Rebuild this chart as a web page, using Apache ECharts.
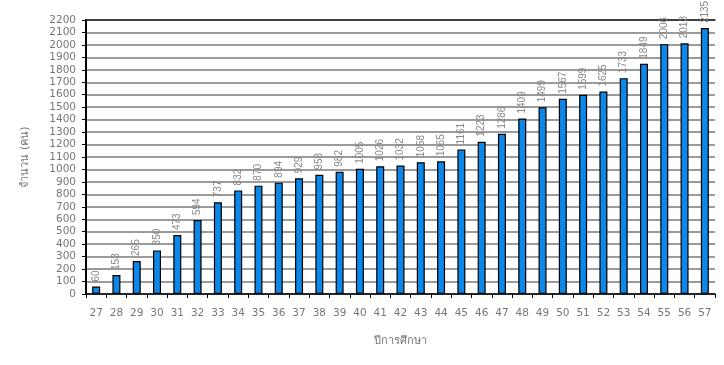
<!DOCTYPE html>
<html><head><meta charset="utf-8">
<script src="https://cdn.jsdelivr.net/npm/echarts@6/dist/echarts.min.js"></script>
<style>html,body{margin:0;padding:0;background:#fff}#c{width:724px;height:365px}</style>
</head><body><div id="c"></div>
<script>
const categories = ['27','28','29','30','31','32','33','34','35','36','37','38','39','40','41','42','43','44','45','46','47','48','49','50','51','52','53','54','55','56','57'];
const values = [60,153,265,350,473,594,737,832,870,894,929,958,982,1005,1026,1032,1058,1065,1161,1223,1286,1409,1499,1567,1599,1625,1733,1849,2006,2013,2135];
const xTitle = 'ปีการศึกษา';
const yTitle = 'จำนวน (คน)';

const chart = echarts.init(document.getElementById('c'), null, {renderer:'canvas'});
chart.setOption({
  animation:false,
  grid:{left:86,right:9,top:20,bottom:71},
  xAxis:[{
    type:'category', data:categories, boundaryGap:true,
    name:xTitle, nameLocation:'middle', nameGap:42,
    nameTextStyle:{color:'#777',fontSize:11,fontFamily:'DejaVu Sans'},
    axisLine:{lineStyle:{color:'#000',width:1.5}},
    axisTick:{show:true,alignWithLabel:false,length:4,lineStyle:{color:'#000',width:1}},
    axisLabel:{color:'#777',fontSize:10.5,fontFamily:'DejaVu Sans',margin:14}
  },{
    type:'category', data:categories, position:'top',
    axisLine:{lineStyle:{color:'#222',width:1.5}},
    axisTick:{show:false}, axisLabel:{show:false}
  }],
  yAxis:{
    type:'value', min:0, max:2200, interval:100,
    name:yTitle, nameLocation:'middle', nameGap:55, nameRotate:90,
    nameTextStyle:{color:'#777',fontSize:11,fontFamily:'DejaVu Sans'},
    axisLine:{show:true,lineStyle:{color:'#000',width:2}},
    axisTick:{show:true,length:4,lineStyle:{color:'#000'}},
    axisLabel:{color:'#777',fontSize:10.5,fontFamily:'DejaVu Sans',margin:10,formatter:function(v){return String(v);}},
    splitLine:{lineStyle:{color:'#7a7a7a',width:1.5}}
  },
  series:[{
    type:'bar', data:values, barWidth:8, xAxisIndex:0,
    itemStyle:{color:'#0d87e8',borderColor:'#000',borderWidth:1.2},
    label:{show:true,position:'top',rotate:90,align:'left',verticalAlign:'middle',distance:5,
      color:'#888',fontSize:10,fontFamily:'Liberation Sans Narrow, Liberation Sans'}
  }]
});
</script></body></html>
